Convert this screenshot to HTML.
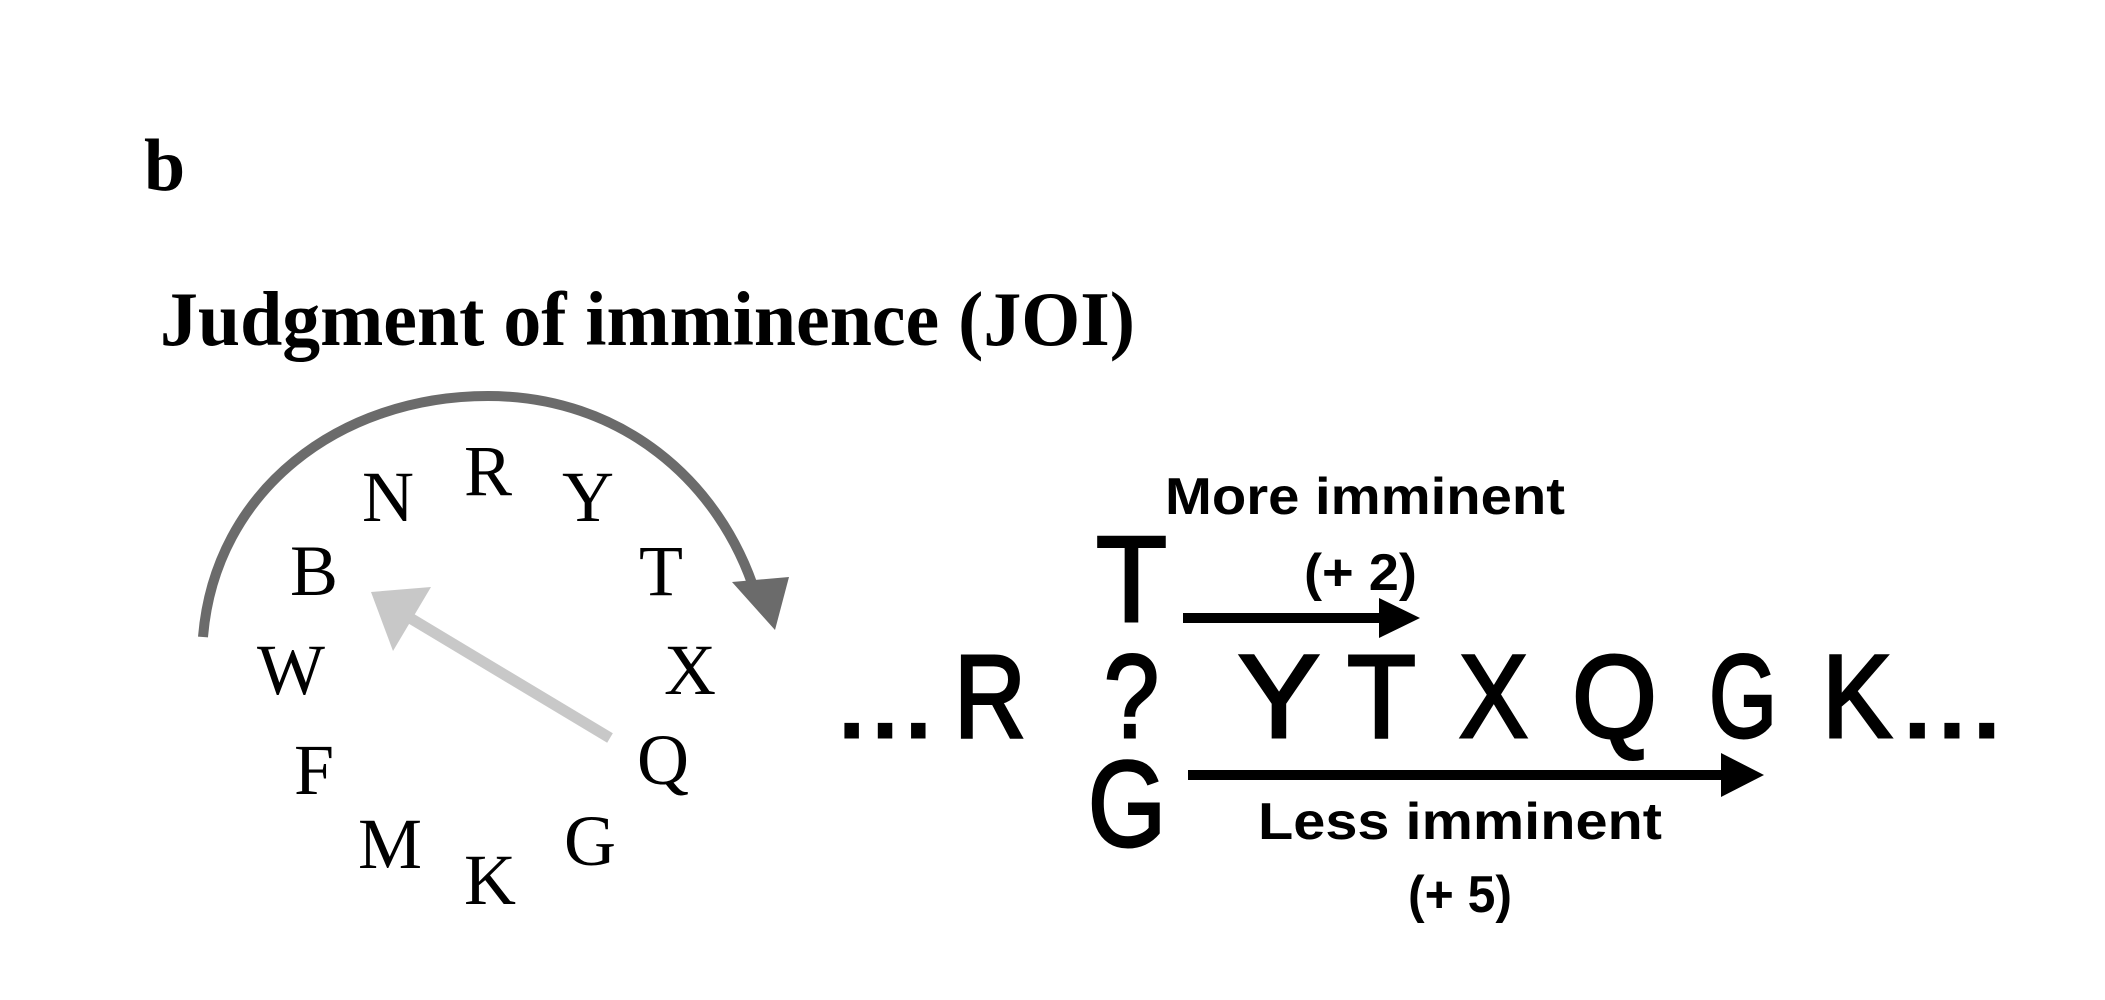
<!DOCTYPE html>
<html><head><meta charset="utf-8"><style>html,body{margin:0;padding:0;background:#fff}svg{display:block}</style></head>
<body>
<svg width="2105" height="1000" viewBox="0 0 2105 1000" xmlns="http://www.w3.org/2000/svg">
<g font-family="'Liberation Serif', serif" fill="#000">
<text x="144" y="190" font-size="74" font-weight="bold">b</text>
<text x="160" y="345" font-size="77" font-weight="bold" textLength="975" lengthAdjust="spacingAndGlyphs">Judgment of imminence (JOI)</text>
<g font-size="72" text-anchor="middle">
<text x="388" y="521">N</text>
<text x="488" y="495">R</text>
<text x="588" y="521">Y</text>
<text x="314" y="595">B</text>
<text x="661" y="595">T</text>
<text x="291" y="694">W</text>
<text x="690" y="694">X</text>
<text x="314" y="794">F</text>
<text x="663" y="784">Q</text>
<text x="390" y="868">M</text>
<text x="490" y="904">K</text>
<text x="590" y="865">G</text>
</g>
</g>
<path d="M203,637 C215,490 340,396 488,396 C620,396 720,480 756,595" fill="none" stroke="#6b6b6b" stroke-width="10"/>
<polygon points="732,582 789,577 775,630" fill="#6b6b6b"/>
<line x1="610" y1="738" x2="410" y2="618" stroke="#c8c8c8" stroke-width="11"/>
<polygon points="371,592 431,587 393,651" fill="#c8c8c8"/>
<g font-family="'Liberation Sans', sans-serif" fill="#000">
<text x="1165" y="514" font-size="52" font-weight="bold" textLength="400" lengthAdjust="spacingAndGlyphs">More imminent</text>
<text x="1304" y="590" font-size="52" font-weight="bold" textLength="113" lengthAdjust="spacingAndGlyphs">(+ 2)</text>
<g stroke="#000" stroke-width="3">
<text x="1096" y="621" font-size="122" textLength="71" lengthAdjust="spacingAndGlyphs">T</text>
<g font-size="118">
<text x="835" y="737" textLength="100" lengthAdjust="spacingAndGlyphs">...</text>
<text x="954" y="737" textLength="72" lengthAdjust="spacingAndGlyphs">R</text>
<text x="1104" y="737" textLength="55" lengthAdjust="spacingAndGlyphs">?</text>
<text x="1238" y="737" textLength="82" lengthAdjust="spacingAndGlyphs">Y</text>
<text x="1347" y="737" textLength="69" lengthAdjust="spacingAndGlyphs">T</text>
<text x="1459" y="737" textLength="69" lengthAdjust="spacingAndGlyphs">X</text>
<text x="1572" y="737" textLength="85" lengthAdjust="spacingAndGlyphs">Q</text>
<text x="1709" y="737" textLength="68" lengthAdjust="spacingAndGlyphs">G</text>
<text x="1822" y="737" textLength="70" lengthAdjust="spacingAndGlyphs">K</text>
<text x="1900" y="737" textLength="104" lengthAdjust="spacingAndGlyphs">...</text>
</g>
<text x="1088" y="846" font-size="122" textLength="78" lengthAdjust="spacingAndGlyphs">G</text>
</g>
<rect x="1183" y="613" width="200" height="10"/>
<polygon points="1379,598 1420,618 1379,638"/>
<rect x="1188" y="770" width="540" height="10"/>
<polygon points="1721,753 1764,775 1721,797"/>
<text x="1258" y="839" font-size="52" font-weight="bold" textLength="404" lengthAdjust="spacingAndGlyphs">Less imminent</text>
<text x="1408" y="912" font-size="52" font-weight="bold" textLength="104" lengthAdjust="spacingAndGlyphs">(+ 5)</text>
</g>
</svg>
</body></html>
